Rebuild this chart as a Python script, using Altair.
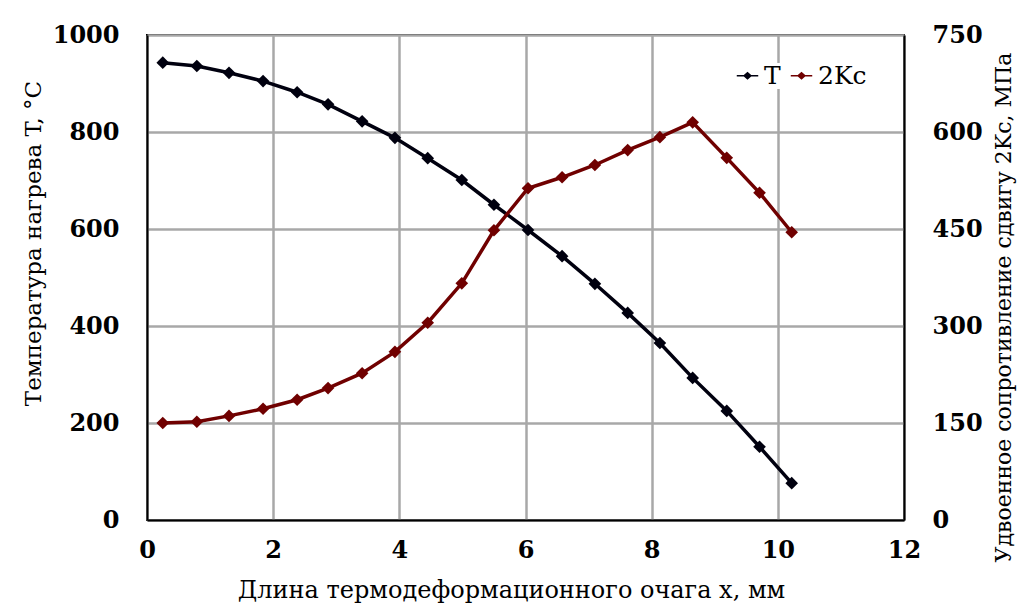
import altair as alt
import pandas as pd

x_mm = [0.25, 0.79, 1.3, 1.84, 2.38, 2.87, 3.41, 3.93, 4.45, 4.99,
        5.5, 6.04, 6.58, 7.1, 7.62, 8.13, 8.65, 9.19, 9.71, 10.22]
temp_T = [943, 936, 922, 905, 882, 857, 822, 788, 746, 701,
          650, 598, 544, 487, 427, 365, 293, 225, 151, 76]
kc2 = [150, 152, 161, 172, 186, 204, 227, 260, 305, 366,
       448, 513, 530, 549, 572, 592, 615, 560, 506, 445]

series = ["T", "2Kc"]
colors = ["#00000f", "#700000"]

dfT = pd.DataFrame({"x": x_mm, "v": temp_T, "s": "T"})
dfK = pd.DataFrame({"x": x_mm, "v": kc2, "s": "2Kc"})

FONT = "DejaVu Serif"

xenc = alt.X("x:Q", scale=alt.Scale(domain=[0, 12], nice=False),
             axis=alt.Axis(values=[0, 2, 4, 6, 8, 10, 12], format="d",
                           title="Длина термодеформационного очага x, мм",
                           grid=True, ticks=False, labelPadding=18, titlePadding=16,
                           labelFlush=False,
                           labelFontWeight="bold", titleX=364, titleFontSize=24))
color = alt.Color("s:N", scale=alt.Scale(domain=series, range=colors),
                  legend=alt.Legend(title=None, orient="none", legendX=588, legendY=28,
                                    direction="horizontal",
                                    symbolType="M-1.6,-0.12L-0.55,-0.12L0,-0.6L0.55,-0.12L1.6,-0.12L1.6,0.12L0.55,0.12L0,0.6L-0.55,0.12L-1.6,0.12Z",
                                    symbolSize=180, symbolStrokeWidth=0, labelFontSize=25,
                                    labelFont=FONT, columnPadding=8, labelOffset=4,
                                    fillColor="white"))

lineT = alt.Chart(dfT).mark_line(strokeWidth=3.5).encode(
    x=xenc,
    y=alt.Y("v:Q", scale=alt.Scale(domain=[0, 1000], nice=False),
            axis=alt.Axis(values=[0, 200, 400, 600, 800, 1000], format="d",
                          title="Температура нагрева T, °C", labelFlush=False,
                          grid=True, ticks=False, labelPadding=28, labelFontWeight="bold",
                          titleX=-102, titleY=208, titleFontSize=23)),
    color=color)
ptT = alt.Chart(dfT).mark_point(shape="diamond", filled=True, size=160, opacity=1).encode(
    x="x:Q", y="v:Q", color=color)

lineK = alt.Chart(dfK).mark_line(strokeWidth=3.5).encode(
    x=xenc,
    y=alt.Y("v:Q", scale=alt.Scale(domain=[0, 750], nice=False),
            axis=alt.Axis(values=[0, 150, 300, 450, 600, 750], orient="right", format="d",
                          title="Удвоенное сопротивление сдвигу 2Kc, МПа", labelFlush=False,
                          grid=False, ticks=False, labelPadding=28, labelFontWeight="bold",
                          titleAngle=-90, titleX=111, titleY=272, titleFontSize=22)),
    color=color)
ptK = alt.Chart(dfK).mark_point(shape="diamond", filled=True, size=160, opacity=1).encode(
    x="x:Q", y="v:Q", color=color)

left = alt.layer(lineT, ptT)
right = alt.layer(lineK, ptK)

chart = alt.layer(left, right).resolve_scale(y="independent").properties(
    width=757, height=485,
    autosize=alt.AutoSizeParams(type="none"),
    padding={"left": 139, "top": 27, "right": 113, "bottom": 86},
    background="white",
).configure_view(stroke="black", strokeWidth=2).configure_axis(
    labelFont=FONT, titleFont=FONT, labelFontSize=24,
    titleFontWeight="normal", labelColor="black", titleColor="black",
    domainColor="black", domainWidth=2, gridColor="#a8a8a8", gridWidth=2.5,
    gridOpacity=1,
)

chart.save("out.html", embed_options={"renderer": "svg", "actions": False})
